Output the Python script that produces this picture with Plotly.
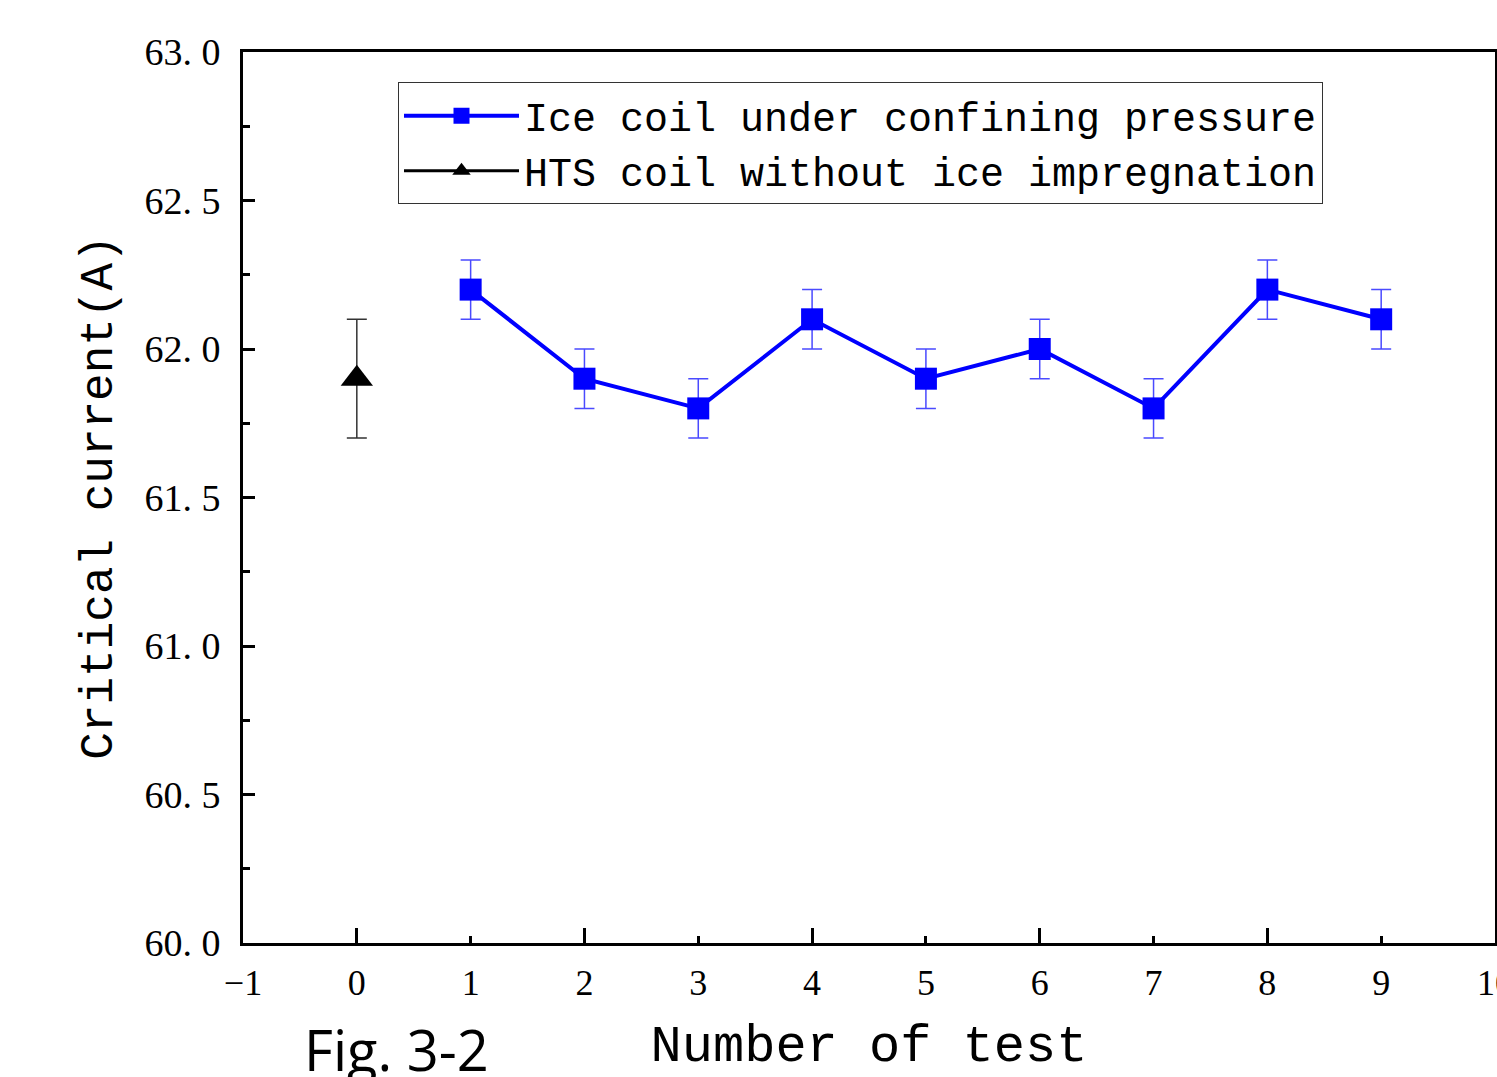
import plotly.graph_objects as go

# Data
tests = [1, 2, 3, 4, 5, 6, 7, 8, 9]
ice_current = [62.2, 61.9, 61.8, 62.1, 61.9, 62.0, 61.8, 62.2, 62.1]
ice_err = [0.1] * 9
hts_test = [0]
hts_current = [61.9]
hts_err = [0.2]

xticks = list(range(-1, 11))
yticks = [60.0, 60.5, 61.0, 61.5, 62.0, 62.5, 63.0]
ytick_text = ["60. 0", "60. 5", "61. 0", "61. 5", "62. 0", "62. 5", "63. 0"]

MONO = "Liberation Mono"
SERIF = "Liberation Serif"

fig = go.Figure()
fig.add_trace(go.Scatter(
    x=tests, y=ice_current, mode="lines+markers",
    name="Ice coil under confining pressure",
    line=dict(color="#0000ff", width=4),
    marker=dict(symbol="square", size=22, color="#0000ff"),
    error_y=dict(type="data", array=ice_err, color="#4a4aff", thickness=1.5, width=10),
))
fig.add_trace(go.Scatter(
    x=hts_test, y=hts_current, mode="lines+markers",
    name="HTS coil without ice impregnation",
    line=dict(color="#000000", width=3),
    marker=dict(symbol="triangle-up", size=28, color="#000000"),
    error_y=dict(type="data", array=hts_err, color="#333333", thickness=1.5, width=10),
))

fig.update_layout(
    width=1497, height=1077,
    margin=dict(l=243, r=2, t=52, b=134),
    paper_bgcolor="white", plot_bgcolor="white",
    showlegend=True,
    legend=dict(
        x=0.1238, y=0.966, xanchor="left", yanchor="top",
        bgcolor="white", bordercolor="#333333", borderwidth=1,
        font=dict(family=MONO, size=40, color="black"),
        tracegroupgap=0, itemwidth=115,
    ),
    xaxis=dict(
        range=[-1, 10], tickvals=xticks, ticktext=[("\u22121" if v == -1 else str(v)) for v in xticks],
        ticks="inside", ticklen=7, tickwidth=3, tickcolor="black",
        showline=True, linewidth=3, linecolor="black", mirror=True,
        showgrid=False, zeroline=False, ticklabeloverflow="allow", ticklabelstandoff=6,
        automargin=False,
        tickfont=dict(family=SERIF, size=36, color="black"),
        title=dict(text="Number of test", font=dict(family=MONO, size=52, color="black"), standoff=26),
    ),
    xaxis2=dict(
        range=[-1, 10], overlaying="x", anchor="y", side="bottom",
        tick0=0, dtick=2, ticks="inside", ticklen=15, tickwidth=3, tickcolor="black",
        showticklabels=False, showgrid=False, zeroline=False, showline=False, automargin=False,
    ),
    yaxis=dict(
        range=[60, 63], tickvals=yticks, ticktext=ytick_text,
        ticks="inside", ticklen=12, tickwidth=3, tickcolor="black",
        minor=dict(dtick=0.25, ticklen=7, tickwidth=3, tickcolor="black", ticks="inside"),
        showline=True, linewidth=3, linecolor="black", mirror=True,
        showgrid=False, zeroline=False, ticklabelstandoff=12, automargin=False,
        tickfont=dict(family=SERIF, size=38, color="black"),
        title=dict(text="Critical current(A)", font=dict(family=MONO, size=46, color="black"), standoff=18),
    ),
    annotations=[dict(
        text="Fig. 3-2", xref="paper", yref="paper", x=0.123, y=-0.074,
        xanchor="center", yanchor="top", showarrow=False,
        font=dict(family="Open Sans", size=56, color="black"),
    )],
)
# invisible trace so the overlay axis (even-number long ticks) is drawn
fig.add_trace(go.Scatter(x=[-1], y=[60], xaxis="x2", yaxis="y", mode="markers",
                         marker=dict(opacity=0), showlegend=False, hoverinfo="skip"))

fig.write_html("out.html")
